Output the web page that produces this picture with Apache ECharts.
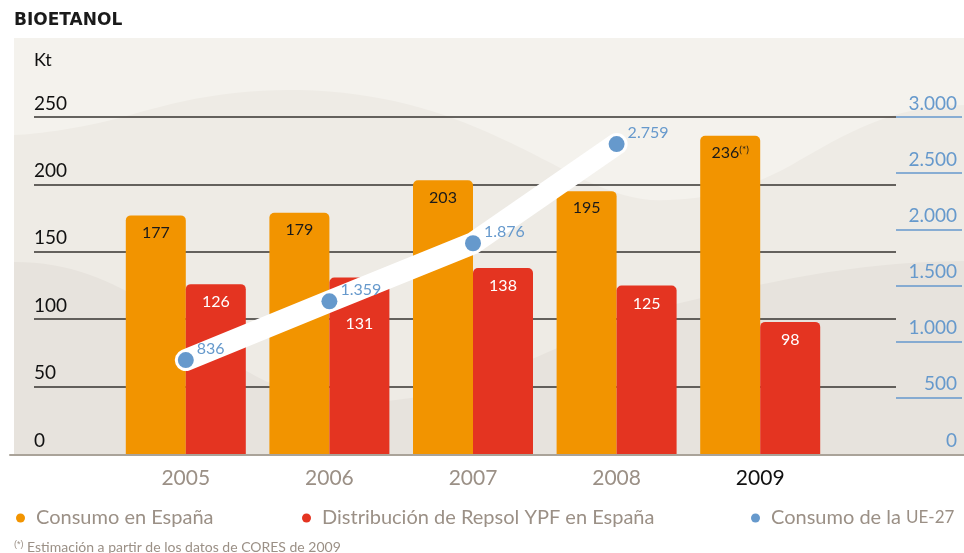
<!DOCTYPE html>
<html>
<head>
<meta charset="utf-8">
<script src="https://cdn.jsdelivr.net/npm/echarts@6/dist/echarts.min.js"></script>
<style>
html, body { margin: 0; padding: 0; background: #fff; }
#chart { width: 964px; height: 553px; }
</style>
</head>
<body>
<div id="chart"></div>
<script>
// datos
var years = ['2005', '2006', '2007', '2008', '2009'];
var consumoEspana = [177, 179, 203, 195, 236];
var distribucionRepsol = [126, 131, 138, 125, 98];
var consumoUE = [836, 1359, 1876, 2759, null];
var ktTicks = [0, 50, 100, 150, 200, 250];
var ueTicks = [0, 500, 1000, 1500, 2000, 2500, 3000];

var NARANJA = '#f29400';
var ROJO = '#e43421';
var AZUL = '#6699cc';
var GRIS = '#9b9086';
var FONT = 'Lato';

// 2759 -> 2.759
function miles(v) {
    return String(v).replace(/\B(?=(\d{3})+(?!\d))/g, '.');
}

// ondas del fondo: tramos bezier cubicos -> puntos de poligono
function onda(p0, tramos) {
    var pts = [p0.slice()];
    var a = p0;
    tramos.forEach(function (t) {
        for (var i = 1; i <= 16; i++) {
            var s = i / 16, u = 1 - s;
            pts.push([
                u * u * u * a[0] + 3 * u * u * s * t[0] + 3 * u * s * s * t[2] + s * s * s * t[4],
                u * u * u * a[1] + 3 * u * u * s * t[1] + 3 * u * s * s * t[3] + s * s * s * t[5]
            ]);
        }
        a = [t[4], t[5]];
    });
    return pts;
}

var fondoClaro = [[14, 38], [964, 38]].concat(onda([964, 105], [
    [900, 106, 860, 125, 800, 160],
    [750, 190, 700, 202, 650, 200],
    [600, 195, 560, 165, 500, 138],
    [440, 110, 380, 92, 300, 90],
    [230, 89, 180, 100, 120, 118],
    [80, 128, 40, 134, 14, 135]
]));
var fondoOscuro = [[14, 455]].concat(onda([14, 262], [
    [70, 262, 110, 280, 150, 305],
    [200, 340, 240, 375, 300, 395],
    [350, 408, 400, 402, 450, 390],
    [530, 366, 600, 322, 680, 303],
    [760, 284, 850, 262, 964, 261]
])).concat([[964, 455]]);

// la etiqueta de 2006 va mas abajo para no quedar bajo la linea blanca
var datosRepsol = distribucionRepsol.map(function (v, i) {
    return i === 1 ? { value: v, label: { distance: 38 } } : v;
});

var myChart = echarts.init(document.getElementById('chart'));

var option = {
    animation: false,
    textStyle: { fontFamily: FONT },
    graphic: [
        { type: 'rect', z: -10, shape: { x: 14, y: 38, width: 950, height: 417 }, style: { fill: '#eeebe5' } },
        { type: 'polygon', z: -9, shape: { points: fondoClaro }, style: { fill: '#f4f2ed' } },
        { type: 'polygon', z: -9, shape: { points: fondoOscuro }, style: { fill: '#e7e3dd' } },
        { type: 'text', left: 14, top: 12, style: { text: 'BIOETANOL', font: 'bold 17px "DejaVu Sans"', fill: '#1a1a1a' } },
        { type: 'text', left: 34, top: 51, style: { text: 'Kt', font: '18px Lato', fill: '#111' } },
        {
            type: 'text', left: 14, top: 540,
            style: {
                text: '{s|(*)} Estimación a partir de los datos de CORES de 2009',
                font: '14px Lato', fill: GRIS,
                rich: { s: { fontSize: 9, verticalAlign: 'top', fill: GRIS } }
            }
        }
    ],
    grid: [
        { left: 34, right: 68, top: 117, bottom: 99 },
        { left: 896, right: 2, top: 117, bottom: 99 },
        { left: 114, right: 132, top: 117, bottom: 99 },
        { left: 10, right: 0, top: 117, bottom: 98 }
    ],
    xAxis: [
        { gridIndex: 0, type: 'value', show: false, min: 0, max: 1 },
        { gridIndex: 1, type: 'value', show: false, min: 0, max: 1 },
        {
            gridIndex: 2, type: 'category', data: years,
            axisLine: { show: false }, axisTick: { show: false },
            axisLabel: {
                margin: 14, fontSize: 21,
                color: function (v) { return v === '2009' ? '#111' : GRIS; }
            }
        },
        {
            gridIndex: 3, type: 'value', min: 0, max: 1,
            axisLine: { show: true, onZero: false, lineStyle: { color: '#aaa399', width: 2 } },
            axisTick: { show: false }, axisLabel: { show: false }, splitLine: { show: false }
        }
    ],
    yAxis: [
        {
            gridIndex: 0, type: 'value', position: 'left',
            min: ktTicks[0], max: ktTicks[ktTicks.length - 1], interval: ktTicks[1] - ktTicks[0],
            axisLine: { show: false }, axisTick: { show: false },
            splitLine: { show: true, showMinLine: false, lineStyle: { color: '#36332f', width: 1.5 } },
            axisLabel: { inside: true, margin: 0, verticalAlign: 'bottom', padding: [0, 0, 4, 0], fontSize: 19, color: '#111' }
        },
        {
            gridIndex: 1, type: 'value', position: 'right',
            min: ueTicks[0], max: ueTicks[ueTicks.length - 1], interval: ueTicks[1] - ueTicks[0],
            axisLine: { show: false }, axisTick: { show: false },
            splitLine: { show: true, showMinLine: false, lineStyle: { color: AZUL, width: 1.5 } },
            axisLabel: { inside: true, margin: 5, verticalAlign: 'bottom', padding: [0, 0, 4, 0], fontSize: 19, color: AZUL, formatter: miles }
        },
        { gridIndex: 2, type: 'value', show: false, min: ktTicks[0], max: ktTicks[ktTicks.length - 1] },
        { gridIndex: 2, type: 'value', show: false, min: ueTicks[0], max: ueTicks[ueTicks.length - 1] },
        { gridIndex: 3, type: 'value', show: false, min: 0, max: 1 }
    ],
    legend: [
        {
            data: [{ name: 'Consumo en España', icon: 'circle' }],
            left: 16, top: 508, padding: 0, itemWidth: 9, itemHeight: 9, selectedMode: false,
            textStyle: { fontSize: 20, color: GRIS, padding: [0, 0, 0, 6] }
        },
        {
            data: [{ name: 'Distribución de Repsol YPF en España', icon: 'circle' }],
            left: 302, top: 508, padding: 0, itemWidth: 9, itemHeight: 9, selectedMode: false,
            textStyle: { fontSize: 20, color: GRIS, padding: [0, 0, 0, 6] }
        },
        {
            data: [{ name: 'Consumo de la UE-27', icon: 'circle' }],
            left: 751, top: 508, padding: 0, itemWidth: 9, itemHeight: 9, selectedMode: false,
            formatter: function () { return 'Consumo de la {sc|UE-27}'; },
            textStyle: {
                fontSize: 20, color: GRIS, padding: [0, 0, 0, 6],
                rich: { sc: { fontSize: 17, color: GRIS } }
            }
        }
    ],
    series: [
        {
            name: 'Consumo en España',
            type: 'bar',
            xAxisIndex: 2, yAxisIndex: 2,
            data: consumoEspana,
            barWidth: 60, barGap: '0%',
            itemStyle: { color: NARANJA, borderRadius: [5, 5, 0, 0] },
            label: {
                show: true, position: 'insideTop', distance: 9,
                fontSize: 16, color: '#1a1a1a',
                formatter: function (p) {
                    return p.dataIndex === 4 ? p.value + '{s|(*)}' : String(p.value);
                },
                rich: { s: { fontSize: 10, verticalAlign: 'top', color: '#1a1a1a' } }
            },
            emphasis: { disabled: true }
        },
        {
            name: 'Distribución de Repsol YPF en España',
            type: 'bar',
            xAxisIndex: 2, yAxisIndex: 2,
            data: datosRepsol,
            barWidth: 60, barGap: '0%',
            itemStyle: { color: ROJO, borderRadius: [5, 5, 0, 0] },
            label: { show: true, position: 'insideTop', distance: 10, fontSize: 16, color: '#fff' },
            emphasis: { disabled: true }
        },
        {
            name: 'Consumo de la UE-27',
            type: 'line',
            xAxisIndex: 2, yAxisIndex: 3,
            data: consumoUE,
            z: 5,
            symbol: 'circle', symbolSize: 16,
            itemStyle: { color: AZUL },
            lineStyle: { color: '#ffffff', width: 22, cap: 'round', join: 'round' },
            label: {
                show: true, position: 'right', distance: 3, offset: [0, -11],
                fontSize: 16, color: AZUL, formatter: function (p) { return miles(p.value); }
            },
            emphasis: { disabled: true }
        }
    ]
};

myChart.setOption(option);
</script>
</body>
</html>
